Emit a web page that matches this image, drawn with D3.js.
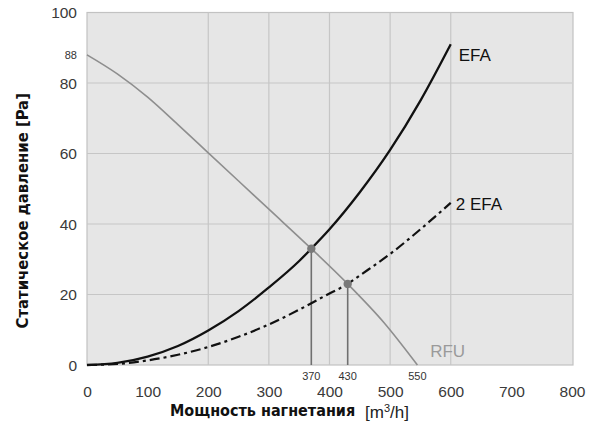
<!DOCTYPE html>
<html><head><meta charset="utf-8">
<script src="https://cdn.jsdelivr.net/npm/d3@7"></script>
<style>
body{margin:0;background:#fff;}
svg{display:block;}
</style></head>
<body>
<svg id="chart" width="600" height="430"></svg>
<script>
// ---- data ----
const xTicks = [0,100,200,300,400,500,600,700,800];
const yTicks = [0,20,40,60,80,100];
const xGrid = [200,300,400,500,600];
const yGrid = [20,40,60,80];
const efaX = [0,50,100,150,200,250,300,350,370,400,450,500,550,600];
const efaY = [0,0.6,2.4,5.4,9.8,15.3,22,29.5,33,38.5,49,61,75,91];
const efa2X = [0,50,100,150,200,250,300,350,400,430,450,500,550,600];
const efa2Y = [0,0.3,1.3,2.9,5.1,8,11.5,15.7,20.3,23,25.4,31.5,38.5,46];
const rfuX = [0,50,100,150,200,250,300,370,430,490,545];
const rfuY = [88,82.6,76,68.2,60.2,52.2,44.2,33,23,12,0];
const opX = [370,430];
const opY = [33,23];
const opLabels = ["370","430"];
const rfuZeroLabel = "550";
const rfuStartLabel = "88";

const svg = d3.select("#chart");
const x = d3.scaleLinear().domain([0,800]).range([87,572]);
const y = d3.scaleLinear().domain([0,100]).range([365,12.5]);
const font = "'Liberation Sans', Arial, sans-serif";
const narrow = "'Liberation Sans Narrow', 'DejaVu Sans Condensed', 'Liberation Sans', sans-serif";

// plot background
svg.append("rect").attr("x",x(0)).attr("y",y(100)).attr("width",x(800)-x(0)+1).attr("height",y(0)-y(100))
  .attr("fill","#e6e6e6").attr("stroke","#c2c2c2").attr("stroke-width",1.2);

// grid
svg.append("g").selectAll("line").data(xGrid).join("line")
  .attr("x1",d=>x(d)).attr("x2",d=>x(d)).attr("y1",y(100)).attr("y2",y(0))
  .attr("stroke","#c6c6c6").attr("stroke-width",1.2);
svg.append("g").selectAll("line").data(yGrid).join("line")
  .attr("x1",x(0)).attr("x2",x(800)).attr("y1",d=>y(d)).attr("y2",d=>y(d))
  .attr("stroke","#c6c6c6").attr("stroke-width",1.2);

// axes (labels only)
const xAxis = d3.axisBottom(x).tickValues(xTicks).tickSize(0).tickPadding(0).tickFormat(d3.format("d"));
const gx = svg.append("g").attr("transform",`translate(0,${y(0)+21})`).call(xAxis);
gx.select(".domain").remove();
gx.selectAll("text").attr("font-family",font).attr("font-size",15.5).attr("fill","#3a3a3a");

const yAxis = d3.axisLeft(y).tickValues(yTicks).tickSize(0).tickPadding(0).tickFormat(d3.format("d"));
const gy = svg.append("g").attr("transform",`translate(${x(0)-10},0)`).call(yAxis);
gy.select(".domain").remove();
gy.selectAll("text").attr("font-family",font).attr("font-size",15.5).attr("fill","#3a3a3a").attr("dy","0.35em");

// line generator
const line = d3.line().x(d=>x(d[0])).y(d=>y(d[1])).curve(d3.curveMonotoneX);

// RFU
svg.append("path").datum(d3.zip(rfuX,rfuY)).attr("d",line)
  .attr("fill","none").attr("stroke","#8e8e8e").attr("stroke-width",1.6);

// vertical drop lines
svg.append("g").selectAll("line").data(d3.zip(opX,opY)).join("line")
  .attr("x1",d=>x(d[0])).attr("x2",d=>x(d[0])).attr("y1",d=>y(d[1])).attr("y2",y(0))
  .attr("stroke","#707070").attr("stroke-width",1.6);

// EFA
svg.append("path").datum(d3.zip(efaX,efaY)).attr("d",line)
  .attr("fill","none").attr("stroke","#111").attr("stroke-width",2.3);
// 2 EFA
svg.append("path").datum(d3.zip(efa2X,efa2Y)).attr("d",line)
  .attr("fill","none").attr("stroke","#111").attr("stroke-width",2.2)
  .attr("stroke-dasharray","10,4,3,4");

// operating points
svg.append("g").selectAll("circle").data(d3.zip(opX,opY)).join("circle")
  .attr("cx",d=>x(d[0])).attr("cy",d=>y(d[1])).attr("r",4.2).attr("fill","#7a7a7a");

// small labels
svg.append("g").selectAll("text").data(d3.zip(opX,opLabels)).join("text")
  .attr("x",d=>x(d[0])).attr("y",y(0)+15).attr("text-anchor","middle")
  .attr("font-family",font).attr("font-size",11).attr("fill","#333").text(d=>d[1]);
svg.append("text").attr("x",x(rfuX[rfuX.length-1])).attr("y",y(0)+15).attr("text-anchor","middle")
  .attr("font-family",font).attr("font-size",11).attr("fill","#333").text(rfuZeroLabel);
svg.append("text").attr("x",x(0)-10).attr("y",y(rfuY[0])).attr("dy","0.35em").attr("text-anchor","end")
  .attr("font-family",font).attr("font-size",11).attr("fill","#333").text(rfuStartLabel);

// series labels
svg.append("text").attr("x",x(efaX[efaX.length-1])+8).attr("y",y(efaY[efaY.length-1])+17)
  .attr("font-family",font).attr("font-size",17).attr("fill","#111").text("EFA");
svg.append("text").attr("x",x(efa2X[efa2X.length-1])+5).attr("y",y(efa2Y[efa2Y.length-1])+7)
  .attr("font-family",font).attr("font-size",17).attr("fill","#111").text("2 EFA");
svg.append("text").attr("x",x(566)).attr("y",y(0)-8)
  .attr("font-family",font).attr("font-size",17).attr("fill","#9a9a9a").text("RFU");

// axis titles
svg.append("text").attr("transform",`translate(28,${y(50)+22}) rotate(-90)`).attr("text-anchor","middle")
  .attr("font-family",narrow).attr("font-weight","bold").attr("font-size",16.5).attr("fill","#111")
  .text("Статическое давление [Pa]");
const xt = svg.append("text").attr("x",170).attr("y",416)
  .attr("font-family",narrow).attr("font-weight","bold").attr("font-size",16).attr("fill","#111");
xt.append("tspan").text("Мощность нагнетания");
const unit = svg.append("text").attr("x",365).attr("y",418)
  .attr("font-family",font).attr("font-size",17).attr("fill","#222");
unit.append("tspan").text("[m");
unit.append("tspan").attr("baseline-shift","super").attr("font-size",11).text("3");
unit.append("tspan").text("/h]");
</script>
</body></html>
